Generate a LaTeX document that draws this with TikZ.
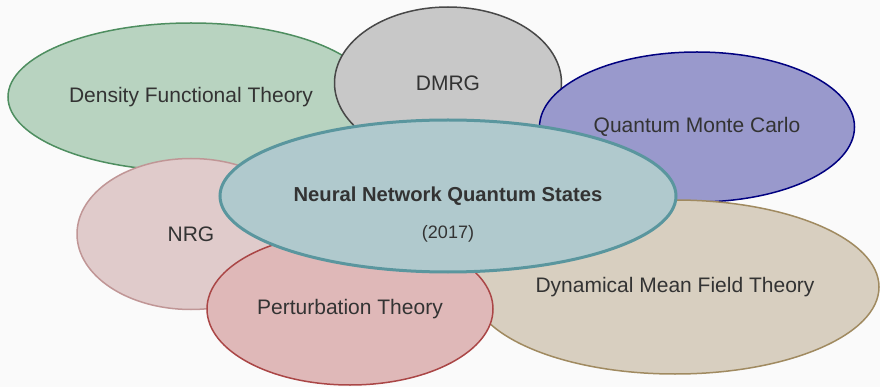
\documentclass[tikz,border=0pt]{standalone}
\usepackage{fontspec}
\setmainfont{Liberation Sans}
\usepackage{tikz}
\usetikzlibrary{shapes.geometric}
\definecolor{bgcol}{HTML}{FAFAFA}
\definecolor{txtcol}{HTML}{333333}
\definecolor{dftfill}{HTML}{B8D3C0}\definecolor{dftline}{HTML}{4E8E60}
\definecolor{dmrgfill}{HTML}{C8C8C8}\definecolor{dmrgline}{HTML}{484848}
\definecolor{qmcfill}{HTML}{9999CC}\definecolor{qmcline}{HTML}{000080}
\definecolor{nrgfill}{HTML}{E0CBCB}\definecolor{nrgline}{HTML}{C09696}
\definecolor{ptfill}{HTML}{DFB8B8}\definecolor{ptline}{HTML}{AA4646}
\definecolor{dmftfill}{HTML}{D8CFC0}\definecolor{dmftline}{HTML}{A08A60}
\definecolor{nnqsfill}{HTML}{B0C9CD}\definecolor{nnqsline}{HTML}{5A969E}
\tikzset{
    method/.style={ellipse, inner sep=0pt, line width=1.5pt, text=txtcol,
        font=\fontsize{21}{25}\selectfont},
    centre/.style={method, line width=3pt, fill=nnqsfill, draw=nnqsline,
        font=\fontsize{20.2}{24}\selectfont\bfseries},
    yearlabel/.style={text=txtcol, font=\fontsize{18}{22}\selectfont}
}

\begin{document}
\begin{tikzpicture}[x=1pt, y=-1pt]
            \fill[bgcol] (0,0) rectangle (880,387);
            \useasboundingbox (0,0) rectangle (880,387);

            % outer methods, back to front
            \node[method, fill=dftfill, draw=dftline, minimum width=366pt, minimum height=148pt] (dft) at (191,97) {Density Functional Theory};
            \node[method, fill=dmrgfill, draw=dmrgline, minimum width=227pt, minimum height=152pt] (dmrg) at (448,83) {DMRG};
            \node[method, fill=qmcfill, draw=qmcline, minimum width=315pt, minimum height=150pt] (qmc) at (697,127) {Quantum Monte Carlo};
            \node[method, fill=nrgfill, draw=nrgline, minimum width=228pt, minimum height=151pt] (nrg) at (191,234) {NRG};
            \node[method, fill=dmftfill, draw=dmftline, minimum width=408pt, minimum height=174pt] (dmft) at (675,287) {Dynamical Mean Field Theory};
            \node[method, fill=ptfill, draw=ptline, minimum width=286pt, minimum height=152pt] (pt) at (350,309) {Perturbation Theory};

            % centre
            \node[centre, minimum width=456pt, minimum height=152pt] (nnqs) at (448,196) {Neural Network Quantum States};
            \node[yearlabel] (year) at (448,234) {(2017)};
        \end{tikzpicture}
\end{document}
